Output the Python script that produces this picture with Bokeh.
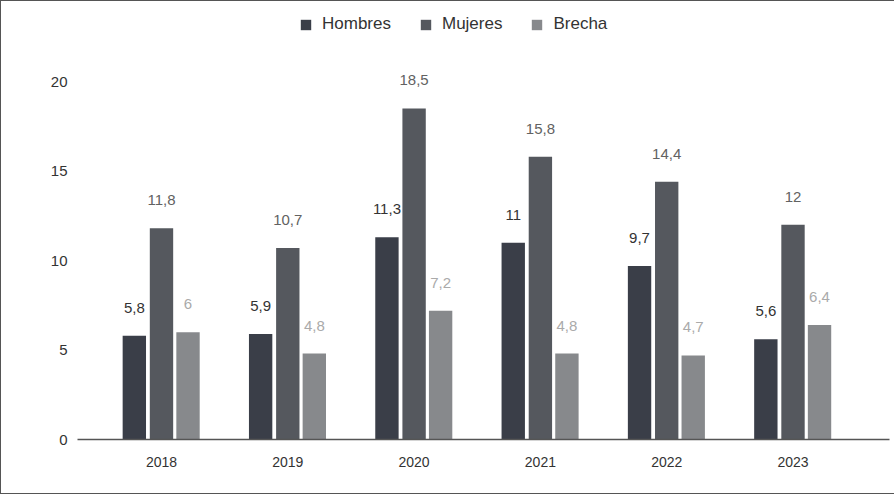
import numpy as np
from bokeh.plotting import figure
from bokeh.models import (ColumnDataSource, Range1d, FixedTicker, Legend, LegendItem, LabelSet)
from bokeh.core.properties import value
from bokeh.embed import file_html
from bokeh.resources import INLINE

years = ["2018", "2019", "2020", "2021", "2022", "2023"]
hombres = [5.8, 5.9, 11.3, 11.0, 9.7, 5.6]
mujeres = [11.8, 10.7, 18.5, 15.8, 14.4, 12.0]
brecha = [6.0, 4.8, 7.2, 4.8, 4.7, 6.4]
series_names = ["Hombres", "Mujeres", "Brecha"]
bar_colors = ["#3a3e48", "#55585e", "#87898c"]
label_colors = ["#333333", "#626262", "#aaaaaa"]
offsets = [-0.215, 0.0, 0.21]

FONT = "Liberation Sans"

def fmt(v):
    s = ("%.1f" % v).rstrip("0").rstrip(".")
    return s.replace(".", ",")

x = np.arange(len(years))

p = figure(width=894, height=494, output_backend="svg", toolbar_location=None,
           x_range=Range1d(-0.665, 5.764), y_range=Range1d(0, 24.03),
           min_border_left=76, min_border_right=6, min_border_top=8, min_border_bottom=56)
p.styles = {"border-left": "1.5px solid #555555", "border-top": "1.5px solid #555555",
            "border-bottom": "1.5px solid #555555"}
p.outline_line_color = None
p.xgrid.grid_line_color = None
p.ygrid.grid_line_color = None

items = []
for name, vals, col, lcol, off in zip(series_names, [hombres, mujeres, brecha], bar_colors, label_colors, offsets):
    src = ColumnDataSource(dict(x=x + off, top=vals, lab=[fmt(v) for v in vals]))
    r = p.vbar(x="x", top="top", width=0.185, source=src, fill_color=col, line_color=None)
    items.append(LegendItem(label=name, renderers=[r]))
    p.add_layout(LabelSet(x="x", y="top", text="lab", source=src, y_offset=28,
                          text_align="center", text_baseline="middle",
                          text_font=value(FONT), text_font_size="15px", text_color=value(lcol)))

legend = Legend(items=items, orientation="horizontal", location=(222, 405),
                label_text_font=FONT, label_text_font_size="17px", label_text_color="#333333",
                glyph_width=13, glyph_height=13, spacing=28, label_standoff=10,
                border_line_color=None, background_fill_alpha=0, padding=0, margin=0)
p.add_layout(legend)

p.xaxis.ticker = FixedTicker(ticks=list(range(len(years))))
p.xaxis.major_label_overrides = {i: y for i, y in enumerate(years)}
p.xaxis.major_tick_line_color = None
p.xaxis.minor_tick_line_color = None
p.xaxis.axis_line_color = "#555555"
p.xaxis.axis_line_width = 1.5
p.xaxis.major_label_text_font = FONT
p.xaxis.major_label_text_font_size = "14px"
p.xaxis.major_label_text_color = "#333333"
p.xaxis.major_label_standoff = 11

p.yaxis.ticker = FixedTicker(ticks=[0, 5, 10, 15, 20])
p.yaxis.axis_line_color = None
p.yaxis.major_tick_line_color = None
p.yaxis.minor_tick_line_color = None
p.yaxis.major_label_text_font = FONT
p.yaxis.major_label_text_font_size = "15px"
p.yaxis.major_label_text_color = "#333333"
p.yaxis.major_label_standoff = 4

open("out.html", "w").write(file_html(p, INLINE))
